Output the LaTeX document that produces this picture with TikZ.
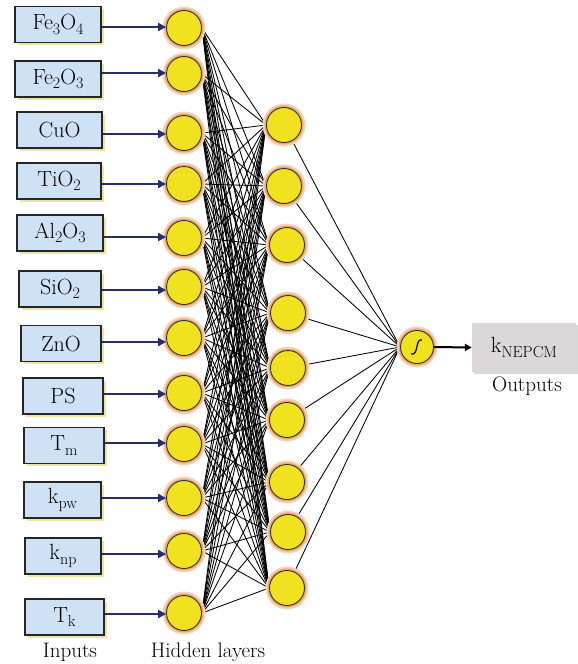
\documentclass[tikz,border=0pt]{standalone}
\usepackage{fontspec}
\setmainfont{Latin Modern Roman}
\usetikzlibrary{arrows.meta,shadows,backgrounds}
\definecolor{boxblue}{RGB}{207,226,245}
\definecolor{boxshade}{RGB}{232,230,160}
\definecolor{neuron}{RGB}{240,226,30}
\definecolor{glowA}{RGB}{246,212,180}
\definecolor{glowB}{RGB}{232,168,118}
\definecolor{navy}{RGB}{40,44,106}
\definecolor{outgray}{RGB}{218,216,216}
% lowered subscript in running text
\newcommand\lowsub[1]{\raisebox{-0.45ex}{\fontsize{16}{16}\selectfont #1}}
\tikzset{
  inbox/.style={draw=black!85, line width=1.1pt, fill=boxblue, minimum height=36pt,
    inner sep=0pt, drop shadow={fill=boxshade, opacity=1, shadow xshift=2.5pt, shadow yshift=-2.5pt},
    font=\fontsize{22}{24}\selectfont},
  neuronnode/.style={circle, draw=black!80, line width=0.9pt, fill=neuron, minimum size=35pt, inner sep=0pt,
    preaction={draw=glowA, line width=8pt}, preaction={draw=glowB, line width=4pt}},
  inarrow/.style={draw=navy, line width=2.3pt, -{Triangle[length=8pt,width=8pt]}},
  link/.style={draw=black, line width=0.85pt},
  caption/.style={font=\fontsize{21}{24}\selectfont}
}
\begin{document}
\begin{tikzpicture}[x=1pt,y=-1pt]
\useasboundingbox (0,0) rectangle (578,664);

% input boxes: name / centre x / centre y / width / label
\foreach \n/\bx/\by/\bw/\lab in {
  1/58/24.5/86/{Fe\lowsub{3}O\lowsub{4}},
  2/58/79/86/{Fe\lowsub{2}O\lowsub{3}},
  3/59.5/130/85/{CuO},
  4/59/181/84/{TiO\lowsub{2}},
  5/60/233/86/{Al\lowsub{2}O\lowsub{3}},
  6/60/289/82/{SiO\lowsub{2}},
  7/61/343.5/80/{ZnO},
  8/63/396/80/{PS},
  9/64/445.5/80/{T\lowsub{m}},
  10/62.5/500/77/{k\lowsub{pw}},
  11/63/556/76/{k\lowsub{np}},
  12/64.5/617/79/{T\lowsub{k}}}
  \node[inbox, minimum width=\bw pt] (b\n) at (\bx,\by) {\lab};

% first hidden layer
\foreach \n/\cy in {1/28,2/74,3/133,4/184,5/238,6/287,7/338,8/393,9/444,10/498,11/551,12/613}
  \node[neuronnode] (h\n) at (184,\cy) {};

% second hidden layer
\foreach \n/\cx/\cy in {1/284/125,2/284/186,3/287/245,4/288/313,5/288/368,6/287/420,7/287/482,8/288/532,9/287/588}
  \node[neuronnode] (g\n) at (\cx,\cy) {};

% output neuron with sigmoid mark
\node[neuronnode, minimum size=33pt] (o) at (417,347) {};
\draw[line width=1.2pt] ([xshift=-6pt,yshift=-7pt]o.center)
  .. controls ([xshift=2pt,yshift=-9pt]o.center) and ([xshift=-2pt,yshift=9pt]o.center)
  .. ([xshift=5pt,yshift=7pt]o.center);

% output box and captions
\node[fill=outgray, minimum width=104pt, minimum height=49pt, inner sep=0pt,
  drop shadow={fill=black!30, opacity=0.5, shadow xshift=1.5pt, shadow yshift=-1.5pt},
  font=\fontsize{22}{24}\selectfont] (k) at (524,347.5) {k\lowsub{NEPCM}};
\node[caption] (outlab) at (527,386) {Outputs};
\node[caption] (inlab) at (70,652) {Inputs};
\node[caption] (hidlab) at (208,652) {Hidden layers};

% input arrows
\foreach \n/\ay in {1/27,2/73,3/134,4/184,5/237,6/290,7/342,8/394,9/443,10/498,11/554,12/614}
  \draw[inarrow] (b\n.east |- 0,\ay) -- (h\n.west |- 0,\ay);

% output arrow
\draw[line width=2pt, -{Triangle[length=7pt,width=7pt]}] (o.east) -- (k.west);

% connections, drawn behind the neurons
\begin{scope}[on background layer]
  \foreach \i in {1,...,12}
    \foreach \j in {1,...,9}
      \draw[link] (h\i.east) -- (g\j.west);
  \foreach \j in {1,...,9}
    \draw[link] (g\j) -- (o.west);
\end{scope}
\end{tikzpicture}
\end{document}
